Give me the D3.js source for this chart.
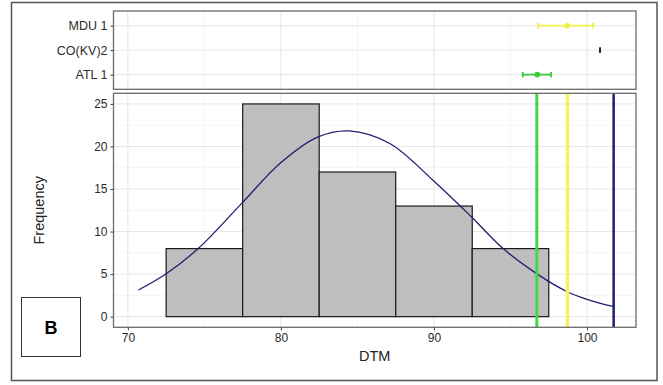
<!DOCTYPE html>
<html>
<head>
<meta charset="utf-8">
<script src="https://cdn.jsdelivr.net/npm/d3@7"></script>
<style>
  body { margin: 0; background: white; }
  text { font-family: "Liberation Sans", Arial, sans-serif; }
</style>
</head>
<body>
<div id="chart"></div>
<script>
// histogram bins (DTM) and counts
var binStarts = [72.5, 77.5, 82.5, 87.5, 92.5];
var binWidth = 5;
var binCounts = [8, 25, 17, 13, 8];

// fitted normal curve
var curveX = [70.69, 72.48, 74.61, 77.44, 79.93, 82.43, 84.45, 87.11, 89.93, 92.44, 94.5, 96.68, 98.71, 100.0, 101.74];
var curveY = [3.13, 5.01, 8.03, 13.31, 18.0, 21.13, 21.83, 20.35, 16.04, 11.74, 8.03, 5.09, 2.93, 2.04, 1.17];

// top panel: mean and range per sample
var groups = ["MDU 1", "CO(KV)2", "ATL 1"];
var groupMean = [98.7, 100.85, 96.75];
var groupLow = [96.8, 100.85, 95.8];
var groupHigh = [100.4, 100.85, 97.65];
var groupColor = ["#f0ef4c", "#222222", "#3cc93c"];

// reference lines
var vlineX = [96.72, 98.72, 101.74];
var vlineColor = ["#45d645", "#f4f266", "#1d1d78"];
var vlineWidth = [3, 3.5, 2.5];

var xTicks = [70, 80, 90, 100];
var yTicks = [0, 5, 10, 15, 20, 25];

var W = 663, H = 385;
var left = 113.5, right = 636;
var topPanel = {y0: 11, y1: 89.3};
var mainPanel = {y0: 93.3, y1: 327.3};

var svg = d3.select("#chart")
	.append("svg")
	.attr("width", W)
	.attr("height", H);

// outer frame
svg.append("rect")
	.attr("x", 11.5).attr("y", 2.5)
	.attr("width", 645.5).attr("height", 378)
	.attr("fill", "white")
	.attr("stroke", "#555").attr("stroke-width", 1.5);

var x = d3.scaleLinear()
	.domain([69.06, 103.2])
	.range([left, right]);

var y = d3.scaleLinear()
	.domain([-1.25, 26.25])
	.range([mainPanel.y1, mainPanel.y0]);

var yCat = d3.scalePoint()
	.domain(groups)
	.range([topPanel.y0, topPanel.y1])
	.padding(0.6);

var minorX = [75, 85, 95];
var minorY = [2.5, 7.5, 12.5, 17.5, 22.5];

// ---- top panel ----
var gTop = svg.append("g");
gTop.selectAll(".minx").data(minorX).enter().append("line")
	.attr("x1", d => x(d)).attr("x2", d => x(d))
	.attr("y1", topPanel.y0).attr("y2", topPanel.y1)
	.attr("stroke", "#f2f2f2").attr("stroke-width", 0.8);
gTop.selectAll(".majx").data(xTicks).enter().append("line")
	.attr("x1", d => x(d)).attr("x2", d => x(d))
	.attr("y1", topPanel.y0).attr("y2", topPanel.y1)
	.attr("stroke", "#e6e6e6").attr("stroke-width", 1);
gTop.selectAll(".majy").data(groups).enter().append("line")
	.attr("x1", left).attr("x2", right)
	.attr("y1", d => yCat(d)).attr("y2", d => yCat(d))
	.attr("stroke", "#e6e6e6").attr("stroke-width", 1);

var rows = groups.map((g, i) => ({name: g, mean: groupMean[i], lo: groupLow[i], hi: groupHigh[i], color: groupColor[i]}));

gTop.selectAll(".eb").data(rows).enter().append("line")
	.attr("x1", d => x(d.lo)).attr("x2", d => x(d.hi))
	.attr("y1", d => yCat(d.name)).attr("y2", d => yCat(d.name))
	.attr("stroke", d => d.color).attr("stroke-width", 1.8);
gTop.selectAll(".capl").data(rows).enter().append("line")
	.attr("x1", d => x(d.lo)).attr("x2", d => x(d.lo))
	.attr("y1", d => yCat(d.name) - 2.7).attr("y2", d => yCat(d.name) + 2.7)
	.attr("stroke", d => d.color).attr("stroke-width", 1.8);
gTop.selectAll(".caph").data(rows).enter().append("line")
	.attr("x1", d => x(d.hi)).attr("x2", d => x(d.hi))
	.attr("y1", d => yCat(d.name) - 2.7).attr("y2", d => yCat(d.name) + 2.7)
	.attr("stroke", d => d.color).attr("stroke-width", 1.8);
gTop.selectAll(".pt").data(rows.filter(d => d.hi > d.lo)).enter().append("circle")
	.attr("cx", d => x(d.mean)).attr("cy", d => yCat(d.name))
	.attr("r", 2.9)
	.attr("fill", d => d.color);

gTop.append("rect")
	.attr("x", left).attr("y", topPanel.y0)
	.attr("width", right - left).attr("height", topPanel.y1 - topPanel.y0)
	.attr("fill", "none").attr("stroke", "#6a6a6a").attr("stroke-width", 1.3);

gTop.append("g")
	.attr("transform", "translate(" + left + ",0)")
	.call(d3.axisLeft(yCat).tickSize(3).tickPadding(3))
	.call(g => g.select(".domain").remove())
	.call(g => g.selectAll("line").attr("stroke", "#444"))
	.call(g => g.selectAll("text")
		.attr("fill", "#2b2b2b")
		.style("font-size", "12.5px")
		.style("font-family", "Liberation Sans, Arial, sans-serif"));

// ---- main panel ----
var gMain = svg.append("g");
gMain.selectAll(".minx").data(minorX).enter().append("line")
	.attr("x1", d => x(d)).attr("x2", d => x(d))
	.attr("y1", mainPanel.y0).attr("y2", mainPanel.y1)
	.attr("stroke", "#f2f2f2").attr("stroke-width", 0.8);
gMain.selectAll(".miny").data(minorY).enter().append("line")
	.attr("x1", left).attr("x2", right)
	.attr("y1", d => y(d)).attr("y2", d => y(d))
	.attr("stroke", "#f2f2f2").attr("stroke-width", 0.8);
gMain.selectAll(".majx").data(xTicks).enter().append("line")
	.attr("x1", d => x(d)).attr("x2", d => x(d))
	.attr("y1", mainPanel.y0).attr("y2", mainPanel.y1)
	.attr("stroke", "#e6e6e6").attr("stroke-width", 1);
gMain.selectAll(".majy").data(yTicks).enter().append("line")
	.attr("x1", left).attr("x2", right)
	.attr("y1", d => y(d)).attr("y2", d => y(d))
	.attr("stroke", "#e6e6e6").attr("stroke-width", 1);

// bars
gMain.selectAll(".bar").data(binStarts).enter().append("rect")
	.attr("x", d => x(d))
	.attr("y", (d, i) => y(binCounts[i]))
	.attr("width", d => x(d + binWidth) - x(d))
	.attr("height", (d, i) => y(0) - y(binCounts[i]))
	.attr("fill", "#bebebe")
	.attr("stroke", "#1a1a1a").attr("stroke-width", 1.2);

// normal curve
var pts = curveX.map((v, i) => [v, curveY[i]]);
gMain.append("path")
	.datum(pts)
	.attr("fill", "none")
	.attr("stroke", "#1f1f70").attr("stroke-width", 1.3)
	.attr("d", d3.line().x(d => x(d[0])).y(d => y(d[1])).curve(d3.curveCatmullRom));

// vertical lines
gMain.selectAll(".vl").data(vlineX).enter().append("line")
	.attr("x1", d => x(d)).attr("x2", d => x(d))
	.attr("y1", mainPanel.y0).attr("y2", mainPanel.y1)
	.attr("stroke", (d, i) => vlineColor[i])
	.attr("stroke-width", (d, i) => vlineWidth[i]);

gMain.append("rect")
	.attr("x", left).attr("y", mainPanel.y0)
	.attr("width", right - left).attr("height", mainPanel.y1 - mainPanel.y0)
	.attr("fill", "none").attr("stroke", "#6a6a6a").attr("stroke-width", 1.3);

// axes
gMain.append("g")
	.attr("transform", "translate(" + left + ",0)")
	.call(d3.axisLeft(y).tickValues(yTicks).tickSize(3).tickPadding(3))
	.call(g => g.select(".domain").remove())
	.call(g => g.selectAll("line").attr("stroke", "#444"))
	.call(g => g.selectAll("text")
		.attr("fill", "#2b2b2b")
		.style("font-size", "12px")
		.style("font-family", "Liberation Sans, Arial, sans-serif"));

gMain.append("g")
	.attr("transform", "translate(0," + mainPanel.y1 + ")")
	.call(d3.axisBottom(x).tickValues(xTicks).tickSize(3).tickPadding(3))
	.call(g => g.select(".domain").remove())
	.call(g => g.selectAll("line").attr("stroke", "#444"))
	.call(g => g.selectAll("text")
		.attr("fill", "#2b2b2b")
		.style("font-size", "12px")
		.style("font-family", "Liberation Sans, Arial, sans-serif"));

// axis titles
svg.append("text")
	.attr("transform", "translate(44," + ((mainPanel.y0 + mainPanel.y1) / 2) + ")rotate(-90)")
	.attr("text-anchor", "middle")
	.attr("fill", "#222")
	.style("font-size", "14.5px")
	.text("Frequency");

svg.append("text")
	.attr("x", (left + right) / 2)
	.attr("y", 361)
	.attr("text-anchor", "middle")
	.attr("fill", "#222")
	.style("font-size", "14.5px")
	.text("DTM");

// panel letter box
svg.append("rect")
	.attr("x", 21.5).attr("y", 297.5)
	.attr("width", 59).attr("height", 59)
	.attr("fill", "white")
	.attr("stroke", "#333").attr("stroke-width", 1);
svg.append("text")
	.attr("x", 51).attr("y", 334)
	.attr("text-anchor", "middle")
	.attr("fill", "#000")
	.style("font-size", "18px")
	.style("font-weight", "bold")
	.text("B");
</script>
</body>
</html>
